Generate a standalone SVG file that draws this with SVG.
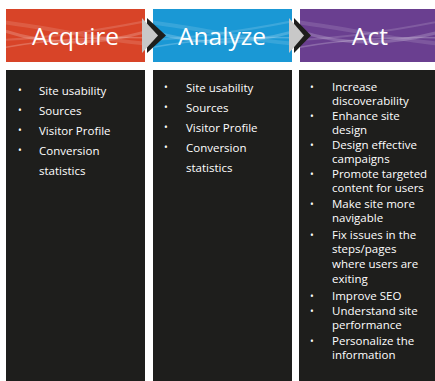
<svg xmlns="http://www.w3.org/2000/svg" width="435" height="381" viewBox="0 0 435 381">
<style>
.hdr{font-family:"Open Sans","Noto Sans",sans-serif;font-size:24.5px;fill:#fff;text-anchor:middle}
.item{font-family:"Open Sans","Noto Sans",sans-serif;font-size:11.5px;fill:#fff}
.bul{font-family:"Open Sans","Noto Sans",sans-serif;font-size:10px;fill:#fff}
.panel{fill:#1e1e1c}
.swoosh{fill:none;stroke:#fff}
</style>
<defs>
<clipPath id="c1"><rect x="6" y="9" width="139" height="53"/></clipPath>
<clipPath id="c2"><rect x="153" y="9" width="139" height="53"/></clipPath>
<clipPath id="c3"><rect x="300" y="9" width="135" height="53"/></clipPath>
<g id="sw">
<path class="swoosh" stroke-opacity="0.2" stroke-width="3" d="M0,30 C40,44 90,48 150,30"/>
<path class="swoosh" stroke-opacity="0.15" stroke-width="2" d="M0,40 C50,38 100,30 150,20"/>
<path class="swoosh" stroke-opacity="0.22" stroke-width="1.5" d="M0,48 C40,40 100,36 150,38"/>
<path class="swoosh" stroke-opacity="0.13" stroke-width="4" d="M0,22 C60,30 110,42 150,44"/>
</g>
</defs>

<g id="acquire">
<rect x="6" y="9" width="139" height="53" fill="#d84428"/>
<g clip-path="url(#c1)"><use href="#sw" transform="translate(2,0)"/></g>
<text class="hdr" x="75.5" y="45">Acquire</text>
<rect class="panel" x="6" y="70" width="139" height="311"/>
<text class="bul" x="18" y="94">•</text><text class="item" x="39" y="95">Site usability</text>
<text class="bul" x="18" y="114">•</text><text class="item" x="39" y="115">Sources</text>
<text class="bul" x="18" y="134">•</text><text class="item" x="39" y="135">Visitor Profile</text>
<text class="bul" x="18" y="154">•</text><text class="item" x="39" y="155">Conversion</text>
<text class="item" x="39" y="175">statistics</text>
</g>

<g id="analyze">
<rect x="153" y="9" width="139" height="53" fill="#1a98d5"/>
<g clip-path="url(#c2)"><use href="#sw" transform="translate(149,0)"/></g>
<text class="hdr" x="222" y="45">Analyze</text>
<rect class="panel" x="153" y="70" width="139" height="311"/>
<text class="bul" x="164" y="91">•</text><text class="item" x="186" y="92">Site usability</text>
<text class="bul" x="164" y="111">•</text><text class="item" x="186" y="112">Sources</text>
<text class="bul" x="164" y="131">•</text><text class="item" x="186" y="132">Visitor Profile</text>
<text class="bul" x="164" y="151">•</text><text class="item" x="186" y="152">Conversion</text>
<text class="item" x="186" y="172">statistics</text>
</g>

<g id="act">
<rect x="300" y="9" width="135" height="53" fill="#6a3f90"/>
<g clip-path="url(#c3)"><use href="#sw" transform="translate(296,0)"/></g>
<text class="hdr" x="370" y="45">Act</text>
<rect class="panel" x="299" y="70" width="136" height="311"/>
<text class="bul" x="310" y="91">•</text><text class="item" x="332" y="91">Increase</text>
<text class="item" x="332" y="105">discoverability</text>
<text class="bul" x="310" y="120">•</text><text class="item" x="332" y="120">Enhance site</text>
<text class="item" x="332" y="134">design</text>
<text class="bul" x="310" y="149">•</text><text class="item" x="332" y="149">Design effective</text>
<text class="item" x="332" y="163">campaigns</text>
<text class="bul" x="310" y="178">•</text><text class="item" x="332" y="178">Promote targeted</text>
<text class="item" x="332" y="192">content for users</text>
<text class="bul" x="310" y="208">•</text><text class="item" x="332" y="208">Make site more</text>
<text class="item" x="332" y="222">navigable</text>
<text class="bul" x="310" y="239">•</text><text class="item" x="332" y="239">Fix issues in the</text>
<text class="item" x="332" y="253">steps/pages</text>
<text class="item" x="332" y="268">where users are</text>
<text class="item" x="332" y="283">exiting</text>
<text class="bul" x="310" y="300">•</text><text class="item" x="332" y="300">Improve SEO</text>
<text class="bul" x="310" y="315">•</text><text class="item" x="332" y="315">Understand site</text>
<text class="item" x="332" y="329">performance</text>
<text class="bul" x="310" y="345">•</text><text class="item" x="332" y="345">Personalize the</text>
<text class="item" x="332" y="359">information</text>
</g>

<g id="connectors">
<polygon points="147,18 166,35.5 147,53" fill="#1e1e1c"/>
<polygon points="142,18 158,35.5 142,53" fill="#c8c8c8"/>
<polygon points="294,18 311,35.5 294,53" fill="#1e1e1c"/>
<polygon points="289,18 304,35.5 289,53" fill="#c8c8c8"/>
</g>
</svg>
